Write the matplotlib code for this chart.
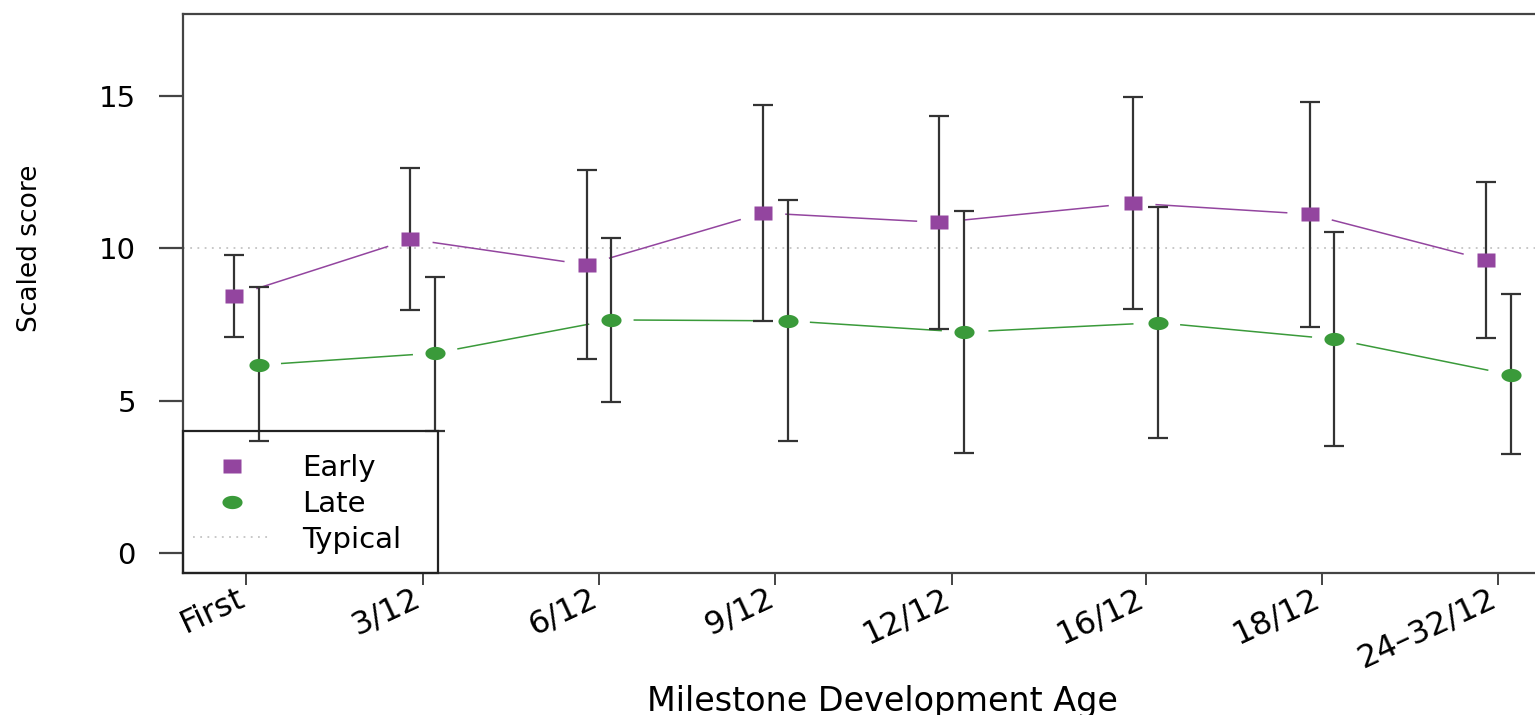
import numpy as np
import matplotlib.pyplot as plt
import matplotlib.transforms as mtransforms
from matplotlib.lines import Line2D
from matplotlib.patches import Rectangle

plt.rcParams['font.family'] = ['DejaVu Sans']

categories = ["First", "3/12", "6/12", "9/12", "12/12", "16/12", "18/12", "24\u201332/12"]

early_mean = [8.44, 10.30, 9.46, 11.16, 10.85, 11.48, 11.12, 9.62]
early_low = [7.08, 7.98, 6.38, 7.60, 7.35, 8.00, 7.43, 7.07]
early_high = [9.78, 12.63, 12.56, 14.71, 14.35, 14.95, 14.79, 12.19]

late_mean = [6.17, 6.56, 7.65, 7.62, 7.25, 7.56, 7.02, 5.85]
late_low = [3.68, 4.02, 4.97, 3.68, 3.29, 3.77, 3.52, 3.24]
late_high = [8.73, 9.07, 10.33, 11.57, 11.23, 11.37, 10.52, 8.50]

typical = 10

# category positions (slightly wider gap after 12/12, as in the original)
xpos = np.array([0, 1, 2, 3, 4, 5.1, 6.1, 7.1])
off = 0.07

purple = "#93459f"
green = "#3a9a3a"

# the original picture is stretched sideways, so the markers are too
t = np.linspace(0, 2 * np.pi, 41)
ellipse = list(zip(np.cos(t), 0.66 * np.sin(t)))
rect = [(-1, -0.74), (1, -0.74), (1, 0.74), (-1, 0.74), (-1, -0.74)]


def gapped_line(ax, x, y, color, gap=0.13):
    x = np.asarray(x, float)
    y = np.asarray(y, float)
    for i in range(len(x) - 1):
        dx = x[i + 1] - x[i]
        dy = y[i + 1] - y[i]
        ax.plot([x[i] + gap * dx, x[i + 1] - gap * dx],
                [y[i] + gap * dy, y[i + 1] - gap * dy],
                color=color, lw=1.1, zorder=2)


fig = plt.figure(figsize=(15.35, 7.15), dpi=100)
ax = fig.add_axes([183 / 1535, 142 / 715, 1397 / 1535, 559 / 715])

ax.axhline(typical, color="#c4c4c4", lw=1.3, ls=(0, (1, 3)), zorder=1)

xe = xpos - off
xl = xpos + off
em = np.array(early_mean)
lm = np.array(late_mean)

gapped_line(ax, xe, em, purple)
gapped_line(ax, xl, lm, green)

ax.errorbar(xe, em, yerr=[em - np.array(early_low), np.array(early_high) - em],
            fmt="none", ecolor="#333333", elinewidth=1.6, capsize=7.5, capthick=1.6, zorder=3)
ax.errorbar(xl, lm, yerr=[lm - np.array(late_low), np.array(late_high) - lm],
            fmt="none", ecolor="#333333", elinewidth=1.6, capsize=7.5, capthick=1.6, zorder=3)

ax.plot(xe, em, ls="none", marker=rect, color=purple, ms=13.5, mec="none", zorder=4)
ax.plot(xl, lm, ls="none", marker=ellipse, color=green, ms=14.5, mec="none", zorder=4)

ax.set_xlim(-0.36, 7.564)
ax.set_ylim(-0.656, 17.69)
ax.set_yticks([0, 5, 10, 15])
ax.set_xticks(xpos)
ax.set_xticklabels(categories, rotation=25, ha="right", va="top", rotation_mode="anchor")

for s in ax.spines.values():
    s.set_color("#444444")
    s.set_linewidth(1.6)

ax.tick_params(axis="y", length=17, width=1.6, color="#444444", pad=17, labelsize=21)
ax.tick_params(axis="x", length=8.6, width=1.4, color="#444444", pad=2, labelsize=23)

# nudge the slanted labels left/up so their ends sit at the ticks
shift = mtransforms.ScaledTranslation(-10 / 100, 5 / 100, fig.dpi_scale_trans)
for lab in ax.get_xticklabels():
    lab.set_transform(lab.get_transform() + shift)

ax.set_ylabel("Scaled score", fontsize=19)
ax.yaxis.set_label_coords(-0.1002, 0.581)
ax.set_xlabel("Milestone Development Age", fontsize=24)
ax.xaxis.set_label_coords(0.501, -0.200)

# legend box drawn as its own frame, like R's legend()
ax.add_patch(Rectangle((0, 0), 255 / 1397, 142 / 559, transform=ax.transAxes,
                       fill=False, ec="#222222", lw=1.6, zorder=5, clip_on=False))
handles = [
    Line2D([], [], marker=rect, color=purple, ls="none", ms=13.5, mec="none"),
    Line2D([], [], marker=ellipse, color=green, ls="none", ms=14.5, mec="none"),
    Line2D([], [], color="#c4c4c4", lw=1.3, ls=(0, (1, 3))),
]
ax.legend(handles, ["Early", "Late", "Typical"], loc="center left",
          bbox_to_anchor=(10 / 1397, 69 / 559), borderaxespad=0, borderpad=0,
          fontsize=21, frameon=False, handlelength=2.64, handletextpad=1.1,
          labelspacing=0.26)

fig.savefig("out.png", dpi=100)
